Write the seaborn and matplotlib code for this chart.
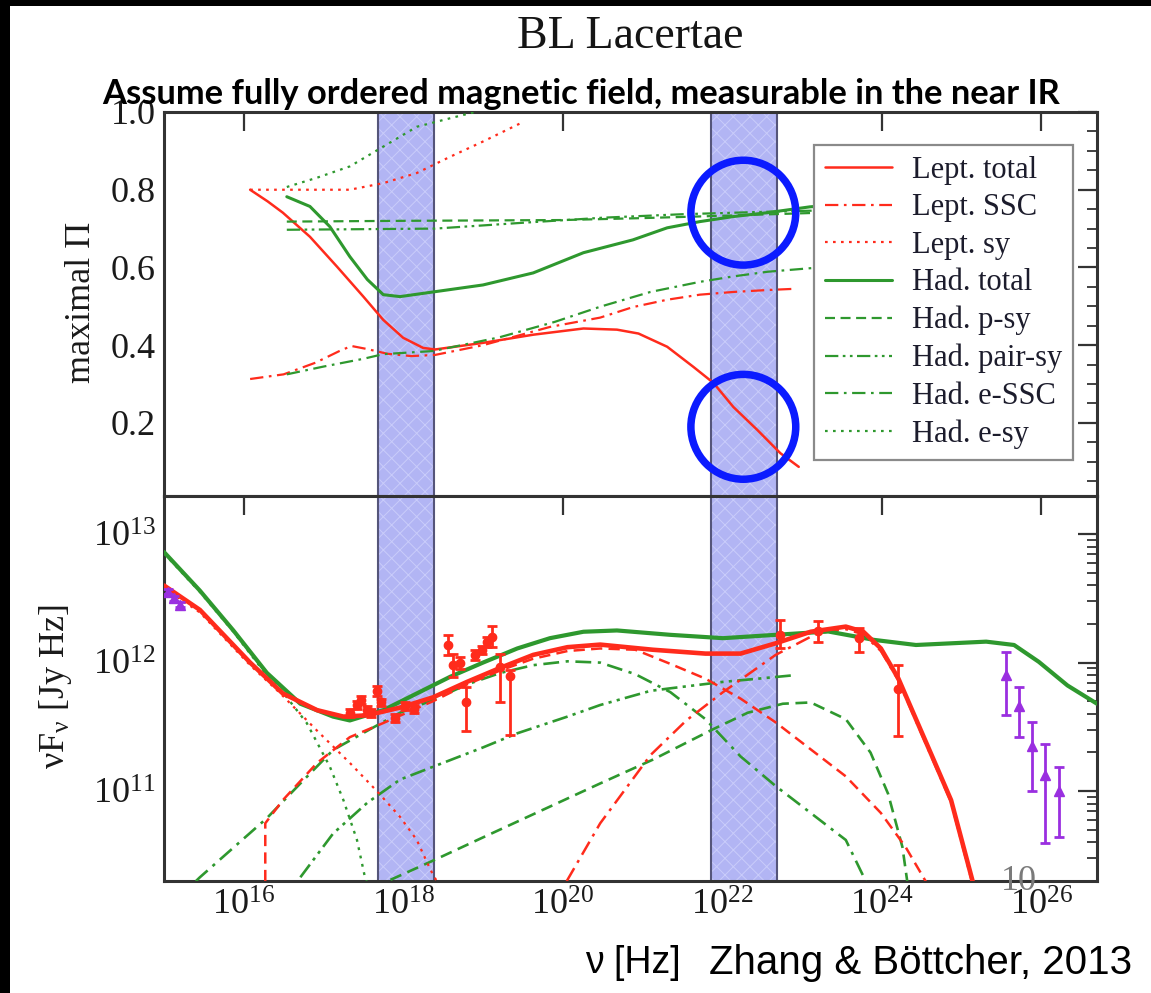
import numpy as np
import pandas as pd
import matplotlib
matplotlib.use("Agg")
import matplotlib.pyplot as plt
import seaborn as sns
from matplotlib.patches import Rectangle
from matplotlib.ticker import FixedLocator, NullLocator, LogLocator, MultipleLocator, NullFormatter

# ---------------- data ----------------
# Top panel: log10(nu/Hz), maximal polarisation degree
lept_total_x = [16.08, 16.30, 16.49, 16.83, 17.17, 17.50, 17.75, 18.00, 18.25, 18.40, 19.00, 19.63, 20.26, 20.68, 20.95, 21.31, 21.64, 21.89, 22.14, 22.44, 22.73, 22.96]
lept_total_y = [0.80, 0.77, 0.741, 0.679, 0.602, 0.525, 0.465, 0.419, 0.393, 0.389, 0.406, 0.427, 0.443, 0.440, 0.430, 0.396, 0.344, 0.303, 0.241, 0.182, 0.122, 0.087]
lept_ssc_x = [16.08, 16.50, 16.90, 17.20, 17.35, 17.55, 17.80, 18.10, 18.40, 19.00, 19.84, 20.47, 20.88, 21.31, 21.72, 22.14, 22.57, 22.90]
lept_ssc_y = [0.313, 0.325, 0.355, 0.385, 0.398, 0.390, 0.378, 0.372, 0.375, 0.400, 0.447, 0.471, 0.498, 0.517, 0.530, 0.537, 0.542, 0.545]
lept_sy_x = [16.08, 16.80, 17.33, 17.75, 18.17, 18.59, 19.00, 19.46]
lept_sy_y = [0.80, 0.80, 0.80, 0.817, 0.843, 0.885, 0.924, 0.970]
had_total_x = [16.54, 16.83, 17.08, 17.33, 17.55, 17.75, 17.96, 18.375, 19.00, 19.63, 20.26, 20.88, 21.31, 21.72, 22.14, 22.57, 23.10, 23.50]
had_total_y = [0.782, 0.757, 0.705, 0.628, 0.569, 0.530, 0.525, 0.537, 0.555, 0.586, 0.638, 0.671, 0.702, 0.718, 0.731, 0.741, 0.756, 0.762]
had_psy_x = [16.54, 18.00, 20.00, 21.00, 22.00, 23.10, 23.50]
had_psy_y = [0.718, 0.720, 0.722, 0.727, 0.733, 0.740, 0.742]
had_pairsy_x = [16.54, 18.40, 19.50, 20.50, 21.50, 22.50, 23.10, 23.50]
had_pairsy_y = [0.697, 0.700, 0.715, 0.728, 0.737, 0.743, 0.746, 0.748]
had_essc_x = [16.54, 17.00, 17.50, 17.75, 18.375, 19.20, 19.90, 20.47, 21.10, 21.72, 22.14, 22.57, 23.10, 23.50]
had_essc_y = [0.325, 0.345, 0.365, 0.377, 0.385, 0.420, 0.460, 0.499, 0.537, 0.563, 0.577, 0.589, 0.598, 0.603]
had_esy_x = [16.54, 16.92, 17.33, 17.75, 18.17, 18.59, 18.90]
had_esy_y = [0.807, 0.831, 0.860, 0.911, 0.962, 0.984, 1.000]

# Bottom panel: log10(nu/Hz), log10(nuF_nu / Jy Hz)
b_lept_total_x = [15.00, 15.45, 16.08, 16.49, 16.92, 17.25, 17.55, 17.96, 18.375, 18.80, 19.22, 19.63, 20.06, 20.47, 21.13, 21.79, 22.23, 22.67, 23.11, 23.55, 23.77, 23.99, 24.21, 24.43, 24.65, 24.87, 25.14]
b_lept_total_y = [12.60, 12.41, 12.00, 11.76, 11.63, 11.58, 11.59, 11.65, 11.73, 11.85, 11.96, 12.06, 12.12, 12.14, 12.10, 12.07, 12.07, 12.15, 12.24, 12.28, 12.24, 12.11, 11.875, 11.56, 11.246, 10.93, 10.30]
b_had_total_x = [15.00, 15.45, 15.87, 16.29, 16.71, 17.12, 17.33, 17.75, 18.17, 18.59, 19.00, 19.43, 19.84, 20.26, 20.68, 21.35, 22.01, 22.67, 23.33, 23.90, 24.43, 25.31, 25.66, 25.97, 26.33, 26.70]
b_had_total_y = [12.86, 12.56, 12.25, 11.92, 11.68, 11.58, 11.55, 11.63, 11.76, 11.89, 12.00, 12.11, 12.19, 12.24, 12.25, 12.216, 12.19, 12.216, 12.242, 12.177, 12.137, 12.163, 12.137, 12.006, 11.822, 11.68]
b_lept_sy_x = [15.00, 15.45, 16.08, 16.46, 16.92, 17.33, 17.67, 17.96, 18.17, 18.34, 18.42]
b_lept_sy_y = [12.58, 12.39, 11.98, 11.76, 11.47, 11.22, 11.00, 10.80, 10.62, 10.39, 10.30]
b_lept_ssc_x = [16.27, 16.27, 16.49, 16.92, 17.33, 17.75, 18.375, 18.80, 19.22, 19.63, 20.06, 20.47, 20.91, 21.35, 21.79, 22.23, 22.67, 23.11, 23.55, 23.99, 24.30, 24.56]
b_lept_ssc_y = [10.30, 10.75, 10.93, 11.22, 11.42, 11.53, 11.70, 11.83, 11.94, 12.03, 12.09, 12.11, 12.10, 11.99, 11.875, 11.72, 11.535, 11.325, 11.115, 10.83, 10.565, 10.29]
b_lept_ec_x = [20.05, 20.47, 21.10, 21.55, 22.01, 22.67, 23.20, 23.55, 23.77, 23.99, 24.21, 24.43, 24.65, 24.87, 25.13]
b_lept_ec_y = [10.30, 10.75, 11.28, 11.55, 11.77, 12.06, 12.23, 12.26, 12.22, 12.09, 11.86, 11.545, 11.23, 10.915, 10.30]
b_had_esy_x = [15.00, 15.45, 15.87, 16.29, 16.49, 16.79, 17.08, 17.25, 17.42, 17.52, 17.54]
b_had_esy_y = [12.85, 12.55, 12.24, 11.90, 11.77, 11.53, 11.19, 10.93, 10.62, 10.33, 10.30]
b_had_essc_x = [15.40, 15.45, 15.87, 16.29, 16.71, 17.12, 17.55, 17.96, 18.375, 18.80, 19.22, 19.63, 20.06, 20.47, 20.91, 21.35, 21.79, 22.23, 22.67, 23.11, 23.55, 23.80]
b_had_essc_y = [10.30, 10.33, 10.56, 10.79, 11.06, 11.32, 11.47, 11.61, 11.71, 11.83, 11.92, 11.98, 12.01, 12.00, 11.91, 11.77, 11.56, 11.27, 11.04, 10.83, 10.62, 10.30]
b_had_pairsy_x = [16.71, 17.12, 17.55, 17.96, 18.375, 19.00, 19.43, 20.06, 20.47, 21.10, 21.35, 22.01, 22.45, 22.87]
b_had_pairsy_y = [10.33, 10.67, 10.91, 11.09, 11.19, 11.34, 11.45, 11.58, 11.67, 11.78, 11.80, 11.85, 11.875, 11.90]
b_had_psy_x = [17.84, 18.375, 19.00, 19.84, 20.47, 21.13, 21.88, 22.32, 22.76, 23.11, 23.55, 23.86, 24.08, 24.26, 24.32]
b_had_psy_y = [10.31, 10.46, 10.64, 10.88, 11.06, 11.245, 11.48, 11.61, 11.68, 11.69, 11.56, 11.30, 10.98, 10.565, 10.30]

# Observed SED points (log10 nu, log10 nuFnu, lower, upper)
red_pts_x = [17.33, 17.42, 17.47, 17.54, 17.59, 17.67, 17.72, 17.90, 18.02, 18.13,
             18.56, 18.63, 18.71, 18.79, 18.90, 18.99, 19.05, 19.11, 19.21, 19.34,
             22.72, 23.20, 23.71, 24.20]
red_pts_y = [11.61, 11.67, 11.71, 11.63, 11.61, 11.78, 11.69, 11.57, 11.66, 11.64,
             12.136, 11.98, 11.994, 11.695, 12.06, 12.10, 12.16, 12.20, 11.967, 11.895,
             12.216, 12.242, 12.19, 11.796]
red_pts_lo = [11.58, 11.64, 11.68, 11.60, 11.58, 11.74, 11.66, 11.54, 11.63, 11.61,
              12.06, 11.89, 11.95, 11.47, 12.02, 12.07, 12.12, 12.123, 11.695, 11.436,
              12.111, 12.163, 12.085, 11.43]
red_pts_hi = [11.64, 11.70, 11.74, 11.66, 11.64, 11.82, 11.72, 11.60, 11.69, 11.67,
              12.214, 12.07, 12.04, 11.81, 12.10, 12.13, 12.20, 12.284, 12.07, 11.94,
              12.334, 12.32, 12.27, 11.98]
purple_pts_x = [15.05, 15.12, 15.20, 25.56, 25.72, 25.89, 26.05, 26.22]
purple_pts_y = [12.55, 12.50, 12.45, 11.907, 11.665, 11.35, 11.128, 11.00]
purple_pts_lo = [12.53, 12.48, 12.43, 11.59, 11.424, 11.00, 10.60, 10.64]
purple_pts_hi = [12.57, 12.52, 12.47, 12.085, 11.81, 11.54, 11.364, 11.19]

# shaded bands (Hz) and annotation circles (nu, Pi)
bands = [(4.84e17, 2.42e18), (7.25e21, 4.84e22)]
circle_nu = [1.84e22, 1.84e22]
circle_pi = [0.741, 0.190]

legend_labels = ["Lept. total", "Lept. SSC", "Lept. sy", "Had. total",
                 "Had. p-sy", "Had. pair-sy", "Had. e-SSC", "Had. e-sy"]
xtick_vals = [1e16, 1e18, 1e20, 1e22, 1e24, 1e26]
xtick_labels = ["10$^{16}$", "10$^{18}$", "10$^{20}$", "10$^{22}$", "10$^{24}$", "10$^{26}$"]
ytop_vals = [0.2, 0.4, 0.6, 0.8, 1.0]
ytop_labels = ["0.2", "0.4", "0.6", "0.8", "1.0"]
ybot_vals = [1e11, 1e12, 1e13]
ybot_labels = ["10$^{11}$", "10$^{12}$", "10$^{13}$"]

# ---------------- style ----------------
sns.set_theme(style="white")
plt.rcParams['font.family'] = ['Liberation Serif', 'DejaVu Serif']
plt.rcParams['mathtext.fontset'] = 'custom'
plt.rcParams['mathtext.rm'] = 'Liberation Serif'
plt.rcParams['mathtext.it'] = 'Liberation Serif:italic'
plt.rcParams['mathtext.bf'] = 'Liberation Serif:bold'
plt.rcParams['hatch.linewidth'] = 0.7

RED = '#ff2b1c'
GREEN = '#2e982e'
PURPLE = '#9a2fe0'
DASH = (0, (4.5, 2.5))
DASHDOT = (0, (6, 2.5, 1.2, 2.5))
DASHDOTDOT = (0, (6, 2, 1.2, 2, 1.2, 2))
DOT = (0, (1.2, 2.4))

fig = plt.figure(figsize=(11.51, 9.93), dpi=100)
fig.patch.set_facecolor('black')
fig.add_artist(Rectangle((10/1151, 0), 1 - 10/1151, 1 - 6/993, transform=fig.transFigure,
                         facecolor='white', edgecolor='none', zorder=-10))

left, width = 164/1151, (1097-164)/1151
ax1 = fig.add_axes([left, 1-496/993, width, (496-112)/993])
ax2 = fig.add_axes([left, 1-881/993, width, (881-496)/993])

for ax in (ax1, ax2):
    ax.set_facecolor('white')
    ax.set_xscale('log')
    ax.set_xlim(1e15, 10**26.70)
ax2.set_yscale('log')
ax1.set_ylim(0.012, 1.0)
ax2.set_ylim(2e10, 10**13.296)


def draw(ax, xs, ys, color, lw, ls, logy=False, label=None, z=3):
    df = pd.DataFrame({'nu': 10**np.asarray(xs, float),
                       'v': (10**np.asarray(ys, float)) if logy else np.asarray(ys, float)})
    sns.lineplot(data=df, x='nu', y='v', ax=ax, color=color, lw=lw, linestyle=ls,
                 sort=False, estimator=None, label=label, legend=False, zorder=z)

# bands
for ax in (ax1, ax2):
    for lo, hi in bands:
        ax.axvspan(lo, hi, facecolor='#b2b5f4', edgecolor='none', zorder=1)
        ax.axvspan(lo, hi, facecolor='none', edgecolor='#c9ccfa', hatch='xx', lw=0, zorder=1.1)
        for v in (lo, hi):
            ax.axvline(v, color='#55557a', lw=1.5, zorder=1.2)

# top panel curves
draw(ax1, lept_total_x, lept_total_y, RED, 1.8, '-', label=legend_labels[0])
draw(ax1, lept_ssc_x, lept_ssc_y, RED, 1.6, DASHDOT, label=legend_labels[1])
draw(ax1, lept_sy_x, lept_sy_y, RED, 1.6, DOT, label=legend_labels[2])
draw(ax1, had_total_x, had_total_y, GREEN, 2.2, '-', label=legend_labels[3])
draw(ax1, had_psy_x, had_psy_y, GREEN, 1.6, DASH, label=legend_labels[4])
draw(ax1, had_pairsy_x, had_pairsy_y, GREEN, 1.6, DASHDOTDOT, label=legend_labels[5])
draw(ax1, had_essc_x, had_essc_y, GREEN, 1.6, DASHDOT, label=legend_labels[6])
draw(ax1, had_esy_x, had_esy_y, GREEN, 1.6, DOT, label=legend_labels[7])

# bottom panel curves
draw(ax2, b_had_esy_x, b_had_esy_y, GREEN, 1.7, DOT, logy=True)
draw(ax2, b_had_essc_x, b_had_essc_y, GREEN, 1.9, DASHDOT, logy=True)
draw(ax2, b_had_pairsy_x, b_had_pairsy_y, GREEN, 1.9, DASHDOTDOT, logy=True)
draw(ax2, b_had_psy_x, b_had_psy_y, GREEN, 1.9, DASH, logy=True)
draw(ax2, b_lept_sy_x, b_lept_sy_y, RED, 1.6, DOT, logy=True)
draw(ax2, b_lept_ssc_x, b_lept_ssc_y, RED, 1.8, DASH, logy=True)
draw(ax2, b_lept_ec_x, b_lept_ec_y, RED, 1.8, DASHDOT, logy=True)
draw(ax2, b_had_total_x, b_had_total_y, GREEN, 3.0, '-', logy=True, z=4)
draw(ax2, b_lept_total_x, b_lept_total_y, RED, 3.3, '-', logy=True, z=4)

# data points
rx = 10**np.asarray(red_pts_x); ry = 10**np.asarray(red_pts_y)
ax2.errorbar(rx, ry, yerr=[ry - 10**np.asarray(red_pts_lo), 10**np.asarray(red_pts_hi) - ry],
             fmt='o', ms=6, color=RED, ecolor=RED, elinewidth=2, capsize=3.5, capthick=2, zorder=5)
px = 10**np.asarray(purple_pts_x); py = 10**np.asarray(purple_pts_y)
ax2.errorbar(px, py, yerr=[py - 10**np.asarray(purple_pts_lo), 10**np.asarray(purple_pts_hi) - py],
             fmt='^', ms=7, color=PURPLE, ecolor=PURPLE, elinewidth=2, capsize=3.5, capthick=2, zorder=5)

# annotation circles
ax1.scatter(circle_nu, circle_pi, s=5700, facecolors='none', edgecolors='#0b1bff',
            linewidths=5.4, zorder=7)

# legend
leg = ax1.legend(loc='upper right', bbox_to_anchor=(0.974, 0.914), borderaxespad=0,
                 fontsize=22, frameon=True, fancybox=False, framealpha=1, edgecolor='#8a8a8a',
                 handlelength=2.2, handletextpad=0.65, labelspacing=0.28, borderpad=0.35)
leg.get_frame().set_linewidth(1.6)
for t in leg.get_texts():
    t.set_color('#1c1c2c')
leg.set_zorder(8)

# ticks / spines
for ax in (ax1, ax2):
    ax.xaxis.set_major_locator(FixedLocator(xtick_vals))
    ax.xaxis.set_minor_locator(NullLocator())
    ax.tick_params(which='major', direction='in', length=14, width=1.6, top=True, right=True,
                   labelsize=26, pad=6, color='#333333', labelcolor='#1a1a1a')
    ax.tick_params(which='minor', direction='in', length=7, width=1.3, top=True, right=True,
                   color='#333333')
    for s in ax.spines.values():
        s.set_linewidth(2.2)
        s.set_color('#333333')
    ax.set_xlabel('')
    ax.set_ylabel('')

ax1.set_xticks(xtick_vals)
ax1.tick_params(labelbottom=False)
ax1.set_yticks(ytop_vals)
ax1.set_yticklabels(ytop_labels)
ax1.yaxis.set_minor_locator(MultipleLocator(0.05))

ax2.set_xticks(xtick_vals)
ax2.set_xticklabels(xtick_labels)
ax2.set_yticks(ybot_vals)
ax2.set_yticklabels(ybot_labels)
ax2.yaxis.set_minor_locator(LogLocator(base=10, subs=np.arange(2, 10)))
ax2.yaxis.set_minor_formatter(NullFormatter())

# texts
fig.text(630/1151, 1-37/993, 'BL Lacertae', ha='center', va='center', fontsize=33, color='#151515')
fig.text(581/1151, 1-104/993, 'Assume fully ordered magnetic field, measurable in the near IR',
         ha='center', va='baseline', fontsize=24.8, fontweight='bold', color='black',
         family=['Lato', 'DejaVu Sans'], zorder=10)
fig.text(82/1151, 1-302/993, 'maximal \u03a0', rotation=90, ha='center', va='center',
         fontsize=26, color='#1a1a1a')
fig.text(55/1151, 1-687/993, r'$\mathregular{\nu F_{\nu}}$ [Jy Hz]', rotation=90, ha='center',
         va='center', fontsize=26, color='#1a1a1a')
fig.text(1019/1151, 1-881/993, '10', ha='center', va='center', fontsize=26, color='#7a7a7a', zorder=10)
fig.text(585/1151, 1-963/993, '\u03bd [Hz]', ha='left', va='center', fontsize=27,
         family=['Liberation Sans', 'DejaVu Sans'], color='black')
fig.text(1132/1151, 1-963/993, 'Zhang & B\u00f6ttcher, 2013', ha='right', va='center', fontsize=29,
         family=['Liberation Sans', 'DejaVu Sans'], color='black')

fig.savefig('out.png', dpi=100, facecolor=fig.get_facecolor())
